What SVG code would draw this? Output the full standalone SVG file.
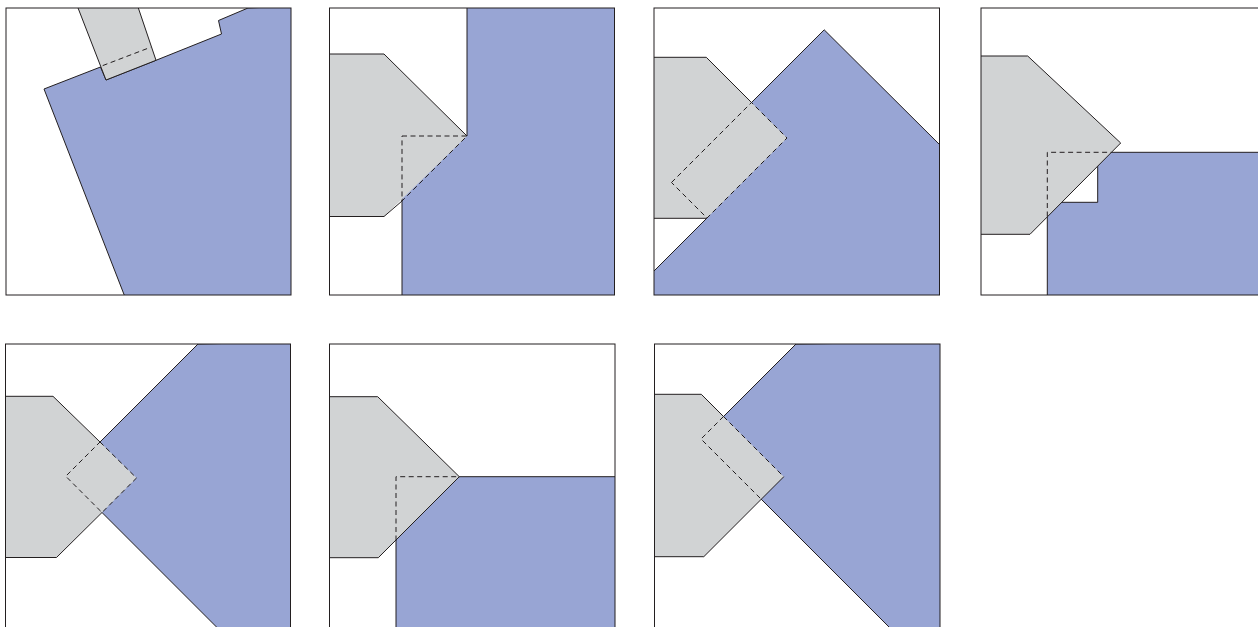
<svg xmlns="http://www.w3.org/2000/svg" width="1258" height="627" viewBox="0 0 1258 627">
<style>
.bg{fill:#ffffff}
.blue{fill:#98a5d4;stroke:#231f20;stroke-width:1;stroke-linejoin:miter}
.grayf{fill:#d1d3d4;stroke:none}
.gray{fill:#d1d3d4;stroke:#231f20;stroke-width:1}
.solid{fill:none;stroke:#231f20;stroke-width:1}
.dash{fill:none;stroke:#231f20;stroke-width:1;stroke-dasharray:5 3.5}
.frame{fill:none;stroke:#231f20;stroke-width:1}
</style>
<rect class="bg" x="0" y="0" width="1258" height="627"/>
<defs>
<clipPath id="c1"><rect x="6" y="8" width="285" height="287"/></clipPath>
<clipPath id="c2"><rect x="329.5" y="8" width="285" height="287"/></clipPath>
<clipPath id="c3"><rect x="654" y="8" width="285.5" height="287"/></clipPath>
<clipPath id="c4"><rect x="981" y="8" width="285" height="287"/></clipPath>
<clipPath id="c5"><rect x="5.5" y="344" width="285" height="290"/></clipPath>
<clipPath id="c6"><rect x="329.5" y="344" width="285.5" height="290"/></clipPath>
<clipPath id="c7"><rect x="654.5" y="344" width="285.5" height="290"/></clipPath>
</defs>

<g id="panel1">
<g clip-path="url(#c1)">
<polygon class="blue" points="293,6 248,8 218.5,20.5 221.5,34 156,60.3 106,80 100.5,67 44,89 125,297 293,297"/>
<polygon class="gray" points="76.5,4 137,4 156,60.3 106,80"/>
<line class="dash" x1="102.7" y1="65.6" x2="150.5" y2="47.3"/>
</g>
<rect class="frame" x="6" y="8" width="285" height="287"/>
</g>

<g id="panel2">
<g clip-path="url(#c2)">
<polygon class="blue" points="467,6 616,6 616,297 402,297 402,136 467,136"/>
<polygon class="grayf" points="327,54 384,54 467,136 384,216.5 327,216.5"/>
<polyline class="solid" points="327,54 384,54 467,136"/>
<polyline class="solid" points="402,201 384,216.5 327,216.5"/>
<polygon class="dash" points="402,136 467,136 402,201"/>
</g>
<rect class="frame" x="329.5" y="8" width="285" height="287"/>
</g>

<g id="panel3">
<g clip-path="url(#c3)">
<polygon class="blue" points="652,273 707,218 671.5,182.5 824.2,29.8 941,146 941,297 652,297"/>
<polygon class="grayf" points="652,57.3 706.3,57.3 787,138 706.7,218.3 652,218.3"/>
<polyline class="solid" points="652,57.3 706.3,57.3 751.5,102.5"/>
<polyline class="solid" points="707,218.3 652,218.3"/>
<polygon class="dash" points="671.5,182.5 751.5,102.5 787,138 707,218"/>
</g>
<rect class="frame" x="654" y="8" width="285.5" height="287"/>
</g>

<g id="panel4">
<g clip-path="url(#c4)">
<polygon class="blue" points="1047.3,297 1047.3,202.3 1097.7,202.3 1097.7,152.3 1268,152.3 1268,297"/>
<polygon class="gray" points="979,56 1027.7,56 1120.7,143 1030,234.3 979,234.3"/>
<polyline class="dash" points="1047.3,216.5 1047.3,152.3 1111.5,152.3"/>
</g>
<rect class="frame" x="981" y="8" width="285" height="287"/>
</g>

<g id="panel5">
<g clip-path="url(#c5)">
<polygon class="blue" points="198,344 292,342 292,634 223.5,634 65.75,476.25"/>
<polygon class="grayf" points="3,396.3 53,396.3 136.5,478 56.5,557.5 3,557.5"/>
<polyline class="solid" points="3,396.3 53,396.3 100,442"/>
<polyline class="solid" points="102,512.5 56.5,557.5 3,557.5"/>
<polygon class="dash" points="100,442 136.5,478 102,512.5 65.75,476.25"/>
</g>
<rect class="frame" x="5.5" y="344" width="285" height="295"/>
</g>

<g id="panel6">
<g clip-path="url(#c6)">
<polygon class="blue" points="396,476.7 617,476.7 617,634 396,634"/>
<polygon class="gray" points="327,396.7 377.7,396.7 459.3,476.7 378.3,557.7 327,557.7"/>
<polyline class="dash" points="396,540.5 396,476.7 459.3,476.7"/>
</g>
<rect class="frame" x="329.5" y="344" width="285.5" height="295"/>
</g>

<g id="panel7">
<g clip-path="url(#c7)">
<polygon class="blue" points="796,344 942,342 942,634 896,634 701,439"/>
<polygon class="grayf" points="652,394.3 701.3,394.3 783.75,476.75 703.8,556.7 652,556.7"/>
<polyline class="solid" points="652,394.3 701.3,394.3 723.5,416.5"/>
<polyline class="solid" points="783.75,476.75 703.8,556.7 652,556.7"/>
<polyline class="dash" points="723.5,416.5 783.75,476.75"/>
<polyline class="dash" points="723.5,416.5 701,439 761.25,499.25"/>
</g>
<rect class="frame" x="654.5" y="344" width="285.5" height="295"/>
</g>
</svg>
